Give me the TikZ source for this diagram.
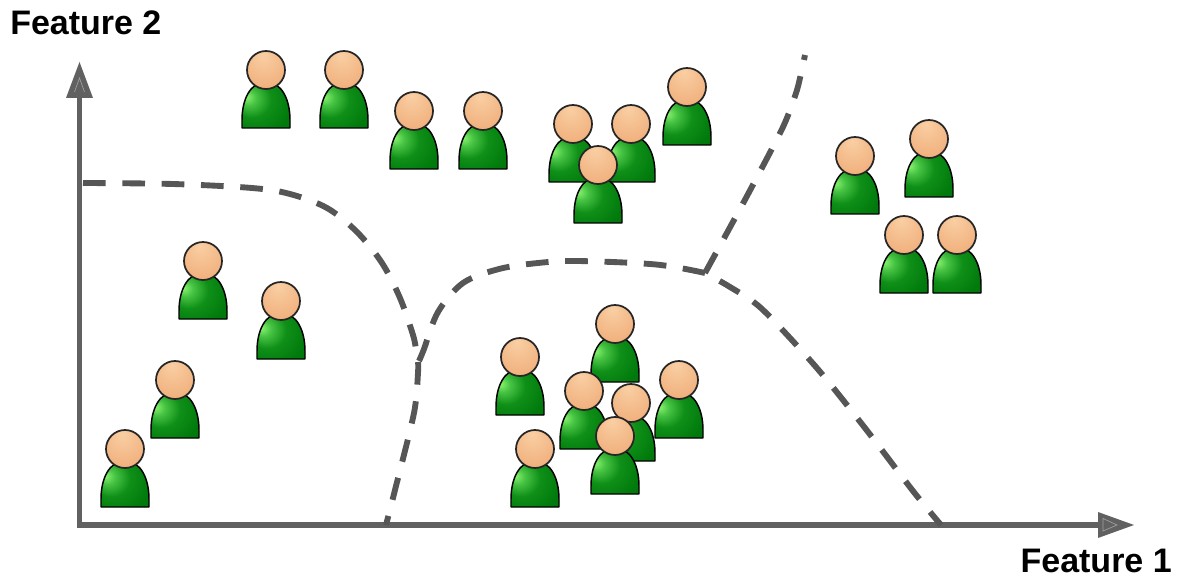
\documentclass[tikz,border=0pt]{standalone}
\usepackage{fontspec}
\setmainfont{Liberation Sans}
\definecolor{gbright}{HTML}{8CF470}
\definecolor{gmid}{HTML}{48C444}
\definecolor{gmain}{HTML}{0F8F18}
\definecolor{gdark}{HTML}{017A0C}
\definecolor{gedge}{HTML}{006806}
\definecolor{hbright}{HTML}{F9CFA3}
\definecolor{hmid}{HTML}{F2B482}
\definecolor{hdark}{HTML}{E89558}
\definecolor{axisgray}{HTML}{616161}
\definecolor{boundgray}{HTML}{565656}
\pgfdeclareradialshading{bodyshade}{\pgfpoint{-21bp}{9bp}}{
  color(0bp)=(gbright); color(8bp)=(gmid); color(20bp)=(gmain); color(36bp)=(gdark); color(65bp)=(gedge)}
\pgfdeclareradialshading{headshade}{\pgfpoint{-4bp}{20bp}}{
  color(0bp)=(hbright); color(30bp)=(hmid); color(70bp)=(hdark)}
\tikzset{
  x=0.75pt,y=-0.75pt,
  bodyshape/.style={shading=bodyshade,draw=black,line width=1.1pt,line join=round},
  headshape/.style={shading=headshade,draw=black!85,line width=1.3pt},
  axisline/.style={draw=axisgray,line width=4.3pt,line cap=butt},
  axishead/.style={fill=axisgray,draw=none},
  axismark/.style={draw=axisgray!60,line width=0.5pt},
  boundary/.style={draw=boundgray,line width=4.4pt,dash pattern=on 17pt off 12.5pt},
  axislabel/.style={font=\fontsize{25.5pt}{30pt}\selectfont\bfseries,text=black,inner sep=0pt},
  person/.pic={
    \shade[bodyshape] (-24,58) -- (-24,50) .. controls (-24,30) and (-16,12) .. (0,12)
       .. controls (16,12) and (24,30) .. (24,50) -- (24,58) -- cycle;
    \shade[headshape] (0,0) circle[radius=19];
  }
}
\begin{document}
\begin{tikzpicture}
\useasboundingbox (0,0) rectangle (1181,577);
% axes
\coordinate (origin) at (79.5,525);
\coordinate (ytip) at (79.5,62);
\coordinate (xtip) at (1134,525);
\draw[axisline] (79.5,528) -- (79.5,96);
\draw[axisline] (76.6,525) -- (1100,525);
\fill[axishead] (ytip) -- (93,98) -- (66,98) -- cycle;
\fill[axishead] (xtip) -- (1098,512) -- (1098,538) -- cycle;
\draw[axismark] (74.5,92) -- (79.5,78) -- (84.5,92);
\draw[axismark] (1103,518.5) -- (1117,525) -- (1103,531) -- cycle;
% boundaries
\coordinate (j1) at (419,361);
\coordinate (j2) at (705,273);
\draw[boundary] plot[smooth,tension=0.55] coordinates {(83,183) (173,184) (252,188) (290,194) (327,208) (357,232) (382,263) (400,298) (413,335) (416,350)};
\draw[boundary] plot[smooth,tension=0.55] coordinates {(j2) (656,264.5) (577,261) (538,263) (499,269) (463,283) (438,312) (424,349) (j1)};
\draw[boundary] plot[smooth,tension=0.5] coordinates {(418,362) (418,373) (414,413) (395,490) (386,525)};
\draw[boundary] plot[smooth,tension=0.4] coordinates {(j2) (747,196) (783,127) (797,90) (805,55)};
\draw[boundary,dash phase=17pt] plot[smooth,tension=0.5] coordinates {(j2) (730,287) (762,309) (816,367) (865,428) (913,491) (941,525)};
% people
\foreach \px/\py [count=\i] in {
  266/70,344/70,414/111,483/111,573/124,631/124,687/87,598/165,
  855/156,929/139,904/235,957/235,203/261,281/301,175/380,125/449,
  520/357,615/324,679/380,584/391,631/403,615/436,535/449}
  \pic (p\i) at (\px,\py) {person};
% labels
\node[axislabel,anchor=base west] (f2) at (10,35) {Feature 2};
\node[axislabel,anchor=base east] (f1) at (1172,572) {Feature 1};
\end{tikzpicture}
\end{document}
